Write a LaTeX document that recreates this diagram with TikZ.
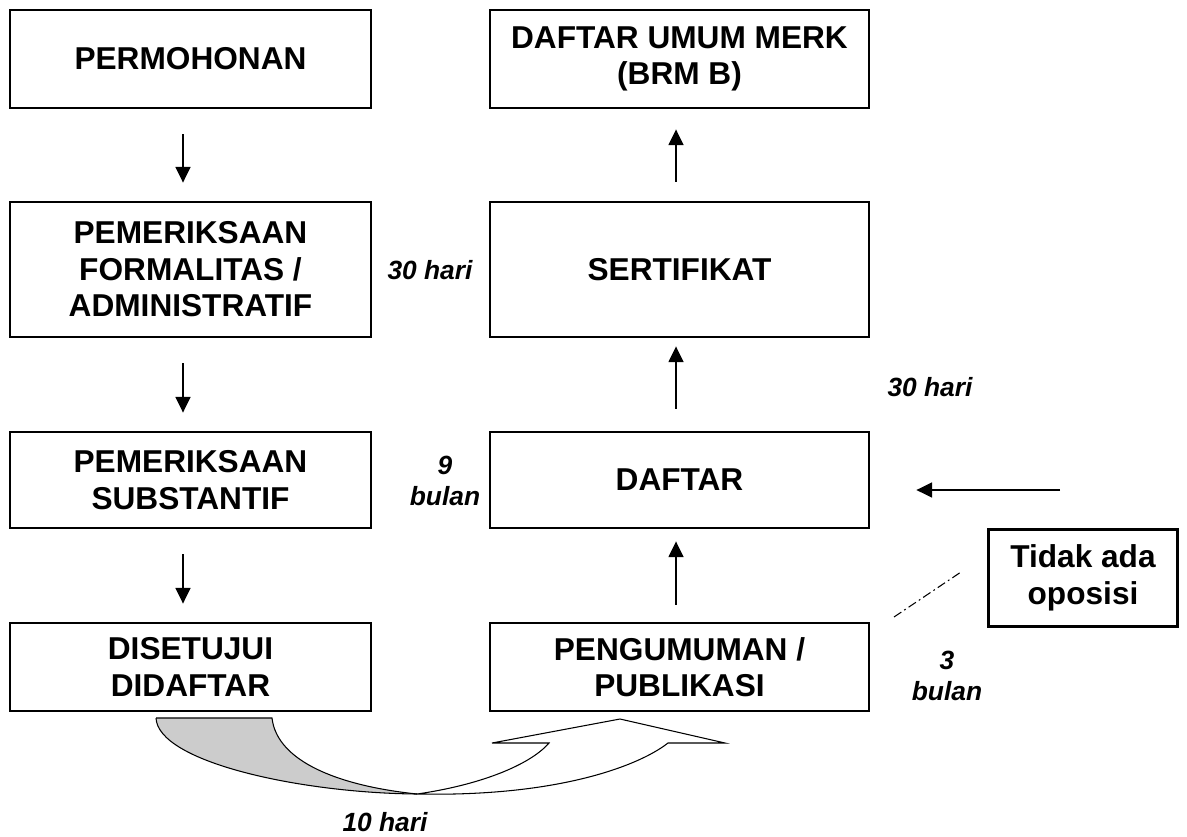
\documentclass[tikz,border=0pt]{standalone}
\usepackage{fontspec}
\setmainfont{Liberation Sans}
\usetikzlibrary{arrows.meta}

\begin{document}
\begin{tikzpicture}
      [%%%%%%%%%%%%%%%%%%%%%%%%%%%%%%
      x=0.02cm, y=-0.02cm,
      box/.style={rectangle,draw=black,line width=1.6pt,align=center,inner sep=0pt,
        font=\fontsize{18}{20.8}\selectfont\bfseries},
      lbl/.style={align=center,inner sep=0pt,
        font=\fontsize{15}{17.5}\selectfont\bfseries\itshape},
      arr/.style={line width=1.1pt,-{Triangle[width=8.5pt,length=9pt]}},
      dashdot/.style={line width=0.6pt,dash pattern=on 5pt off 2pt on 1pt off 2pt},
      band/.style={draw=black,line width=0.6pt},
      ]%%%%%%%%%%%%%%%%%%%%%%%%%%%%%%

      \useasboundingbox (0,0) rectangle (1187,836);

      % left column
      \node[box,minimum width=7.22cm,minimum height=1.96cm] (perm)   at (190.5,59)  {PERMOHONAN};
      \node[box,minimum width=7.22cm,minimum height=2.70cm] (forma)  at (190.5,269.5) {PEMERIKSAAN\\FORMALITAS /\\ADMINISTRATIF};
      \node[box,minimum width=7.22cm,minimum height=1.92cm] (subst)  at (190.5,480) {PEMERIKSAAN\\SUBSTANTIF};
      \node[box,minimum width=7.22cm,minimum height=1.76cm] (setuju) at (190.5,667) {DISETUJUI\\DIDAFTAR};

      % right column
      \node[box,minimum width=7.58cm,minimum height=1.96cm] (umum)    at (679.5,59)  {DAFTAR UMUM MERK\\(BRM B)};
      \node[box,minimum width=7.58cm,minimum height=2.70cm] (serti)   at (679.5,269.5) {SERTIFIKAT};
      \node[box,minimum width=7.58cm,minimum height=1.92cm] (daftar)  at (679.5,480) {DAFTAR};
      \node[box,minimum width=7.58cm,minimum height=1.76cm] (umumkan) at (679.5,667) {PENGUMUMAN /\\PUBLIKASI};

      \node[box,minimum width=3.78cm,minimum height=1.94cm] (tidak) at (1083,578) {Tidak ada\\oposisi};

      % durations
      \node[lbl] (hari30a) at (430,270) {30 hari};
      \node[lbl] (bulan9)  at (445,481) {9\\bulan};
      \node[lbl] (hari30b) at (930,387) {30 hari};
      \node[lbl] (bulan3)  at (947,676) {3\\bulan};
      \node[lbl] (hari10)  at (385,822) {10 hari};

      % down arrows
      \foreach \a/\b in {perm/forma,forma/subst,subst/setuju}{
        \draw[arr,shorten <=0.5cm,shorten >=0.36cm]
          ([xshift=-0.15cm]\a.south) -- ([xshift=-0.15cm]\b.north);
      }

      % up arrows
      \draw[arr,shorten <=0.38cm,shorten >=0.40cm] ([xshift=-0.07cm]serti.north) -- ([xshift=-0.07cm]umum.south);
      \draw[arr,shorten <=0.44cm,shorten >=0.16cm] ([xshift=-0.07cm]daftar.north) -- ([xshift=-0.07cm]serti.south);
      \draw[arr,shorten <=0.34cm,shorten >=0.24cm] ([xshift=-0.07cm]umumkan.north) -- ([xshift=-0.07cm]daftar.south);

      \coordinate (oposend) at (1060,490);
      \draw[arr,shorten >=0.92cm] (oposend) -- (oposend -| daftar.east);

      \coordinate (oposa) at (894,617);
      \coordinate (oposb) at (961,572);
      \draw[dashdot] (oposa) -- (oposb);

      % curved arrow (10 hari)
      \fill[gray!40] (156,718) -- (272,718)
        .. controls (277,762) and (340,786) .. (417,794)
        .. controls (300,793) and (158,762) .. (156,718) -- cycle;
      \draw[band] (156,718) -- (272,718)
        .. controls (277,762) and (340,786) .. (417,794);
      \draw[band,fill=white] (417,794)
        .. controls (560,797) and (640,765) .. (668,743)
        -- (725,743) -- (620,719) -- (492,743) -- (549,743)
        .. controls (530,765) and (480,785) .. (417,794);
      \draw[band] (156,718) .. controls (158,762) and (300,793) .. (417,794);
    \end{tikzpicture}
\end{document}
